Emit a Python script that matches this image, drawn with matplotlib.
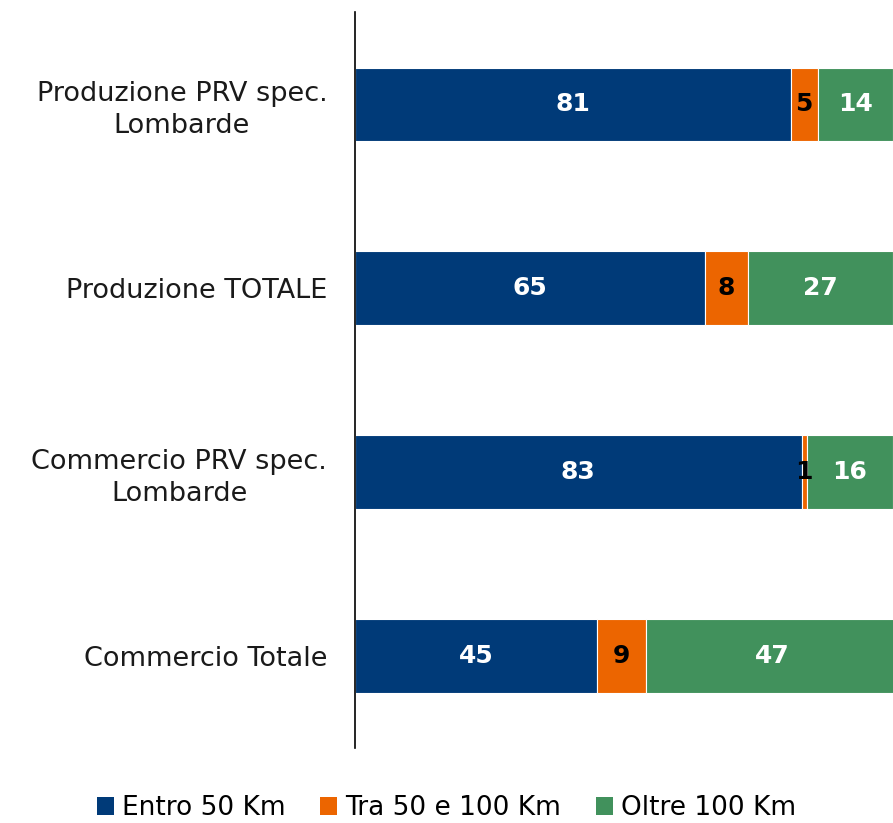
import matplotlib
matplotlib.use("Agg")
import matplotlib.pyplot as plt
from matplotlib.patches import Patch

categories = ["Produzione PRV spec.\nLombarde", "Produzione TOTALE",
              "Commercio PRV spec.\nLombarde", "Commercio Totale"]
entro = [81, 65, 83, 45]
tra = [5, 8, 1, 9]
oltre = [14, 27, 16, 47]
series_names = ["Entro 50 Km", "Tra 50 e 100 Km", "Oltre 100 Km"]
colors = ["#003A78", "#EC6500", "#41915C"]
label_colors = ["white", "black", "white"]

plt.rcParams['font.family'] = ['DejaVu Sans']
fig = plt.figure(figsize=(8.93, 8.23), dpi=100)
ax = fig.add_axes([0.3975, 0.091, 0.6025, 0.894])

y = list(range(len(categories)))
left = [0] * len(categories)
for vals, col, lc in zip([entro, tra, oltre], colors, label_colors):
    ax.barh(y, vals, left=left, height=0.4, color=col,
            edgecolor="white", linewidth=0.8)
    for yi, l, v in zip(y, left, vals):
        ax.text(l + v / 2, yi, f"{v}", ha="center", va="center",
                color=lc, fontsize=18, fontweight="bold")
    left = [a + b for a, b in zip(left, vals)]

ax.set_xlim(0, 100)
ax.set_ylim(3.5, -0.5)
ax.set_yticks(y)
ax.set_yticklabels(categories, fontsize=19.5, ha="right",
                   multialignment="center", color="#1a1a1a", linespacing=1.3)
ax.tick_params(axis="y", length=0, pad=20)
ax.set_xticks([])
for s in ["top", "right", "bottom"]:
    ax.spines[s].set_visible(False)
ax.spines["left"].set_linewidth(1.2)

handles = [Patch(facecolor=c, edgecolor="none") for c in colors]
fig.legend(handles, series_names, loc="center", bbox_to_anchor=(0.5, 0.018),
           ncol=3, frameon=False, fontsize=19, handlelength=0.65,
           handleheight=0.65, handletextpad=0.3, columnspacing=1.3)

fig.savefig("out.png", dpi=100)
